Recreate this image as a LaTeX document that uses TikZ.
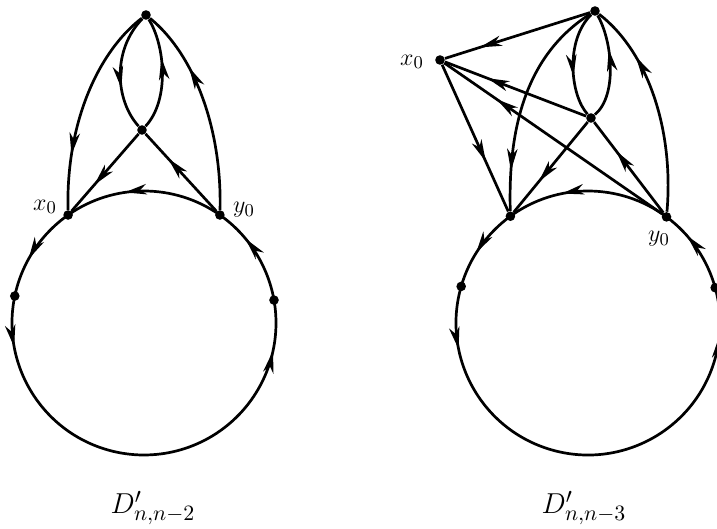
\documentclass[tikz,border=0pt]{standalone}
\usetikzlibrary{arrows.meta,decorations.markings,calc}
\begin{document}
\begin{tikzpicture}[x=0.5pt,y=-0.5pt,
  dot/.style={circle,fill=black,inner sep=0pt,minimum size=4.8pt},
  edge/.style={line width=1.35pt},
  ar/.style={postaction={decorate,decoration={markings,mark=at position #1 with {\arrow{Stealth[length=11pt,width=5.2pt,inset=3.2pt]}}}}},
  lbl/.style={font=\fontsize{12.5}{14}\selectfont},
  captext/.style={font=\fontsize{15}{17}\selectfont}]
\useasboundingbox (0,0) rectangle (717,529);

% ---------- left figure ----------
\coordinate (C1) at (144,323);
\node[dot] (T1) at (146,15) {};
\node[dot] (M1) at (142,130) {};
\node[dot] (X1) at ($(C1)+(-125.1:132)$) {};
\node[dot] (Y1) at ($(C1)+(-54.9:132)$) {};
\node[dot] (L1) at ($(C1)+(-168.2:132)$) {};
\node[dot] (R1) at ($(C1)+(-10:132)$) {};

\draw[edge,ar=0.62] (Y1.center) arc[start angle=-54.9,end angle=-125.1,radius=132];
\draw[edge,ar=0.6] (X1.center) arc[start angle=-125.1,end angle=-168.2,radius=132];
\draw[edge,ar=0.11,ar=0.89] (L1.center) arc[start angle=-168.2,end angle=-370,radius=132];
\draw[edge,ar=0.66] (R1.center) arc[start angle=-10,end angle=-54.9,radius=132];

\draw[edge,ar=0.74] (T1) .. controls (100,50) and (66,120) .. (X1);
\draw[edge,ar=0.7] (Y1) .. controls (222,130) and (195,55) .. (T1);
\draw[edge,ar=0.64] (T1) .. controls (112,50) and (115,100) .. (M1);
\draw[edge,ar=0.64] (M1) .. controls (170,100) and (165,45) .. (T1);
\draw[edge,ar=0.66] (M1) -- (X1);
\draw[edge,ar=0.68] (Y1) -- (M1);

\node[lbl] (lx1) at (45,207) {$x_0$};
\node[lbl] (ly1) at (244,210) {$y_0$};
\node[captext] (c1) at (153,508) {$D'_{n,n-2}$};

% ---------- right figure ----------
\coordinate (C2) at (588,323);
\node[dot] (T2) at (595,11) {};
\node[dot] (X2) at (440,60) {};
\node[dot] (M2) at (591,118) {};
\node[dot] (A2) at ($(C2)+(-126:132)$) {};
\node[dot] (Y2) at ($(C2)+(-53.5:132)$) {};
\node[dot] (L2) at ($(C2)+(-163.9:132)$) {};
\node[dot] (R2) at ($(C2)+(-15.5:132)$) {};

\draw[edge,ar=0.66] (Y2.center) arc[start angle=-53.5,end angle=-126,radius=132];
\draw[edge,ar=0.58] (A2.center) arc[start angle=-126,end angle=-163.9,radius=132];
\draw[edge,ar=0.13,ar=0.9] (L2.center) arc[start angle=-163.9,end angle=-375.5,radius=132];
\draw[edge,ar=0.68] (R2.center) arc[start angle=-15.5,end angle=-53.5,radius=132];

\draw[edge,ar=0.76] (T2) -- (X2);
\draw[edge,ar=0.66] (X2) -- (A2);
\draw[edge,ar=0.7] (M2) -- (X2);
\draw[edge,ar=0.76] (Y2) -- (X2);
\draw[edge,ar=0.82] (T2) .. controls (525,55) and (508,130) .. (A2);
\draw[edge,ar=0.62] (T2) .. controls (565,40) and (570,95) .. (M2);
\draw[edge,ar=0.66] (M2) .. controls (618,95) and (612,40) .. (T2);
\draw[edge,ar=0.74] (Y2) .. controls (674,130) and (648,52) .. (T2);
\draw[edge,ar=0.66] (M2) -- (A2);
\draw[edge,ar=0.68] (Y2) -- (M2);

\node[lbl] (lx2) at (412,62) {$x_0$};
\node[lbl] (ly2) at (659,239) {$y_0$};
\node[captext] (c2) at (584,508) {$D'_{n,n-3}$};
\end{tikzpicture}
\end{document}
